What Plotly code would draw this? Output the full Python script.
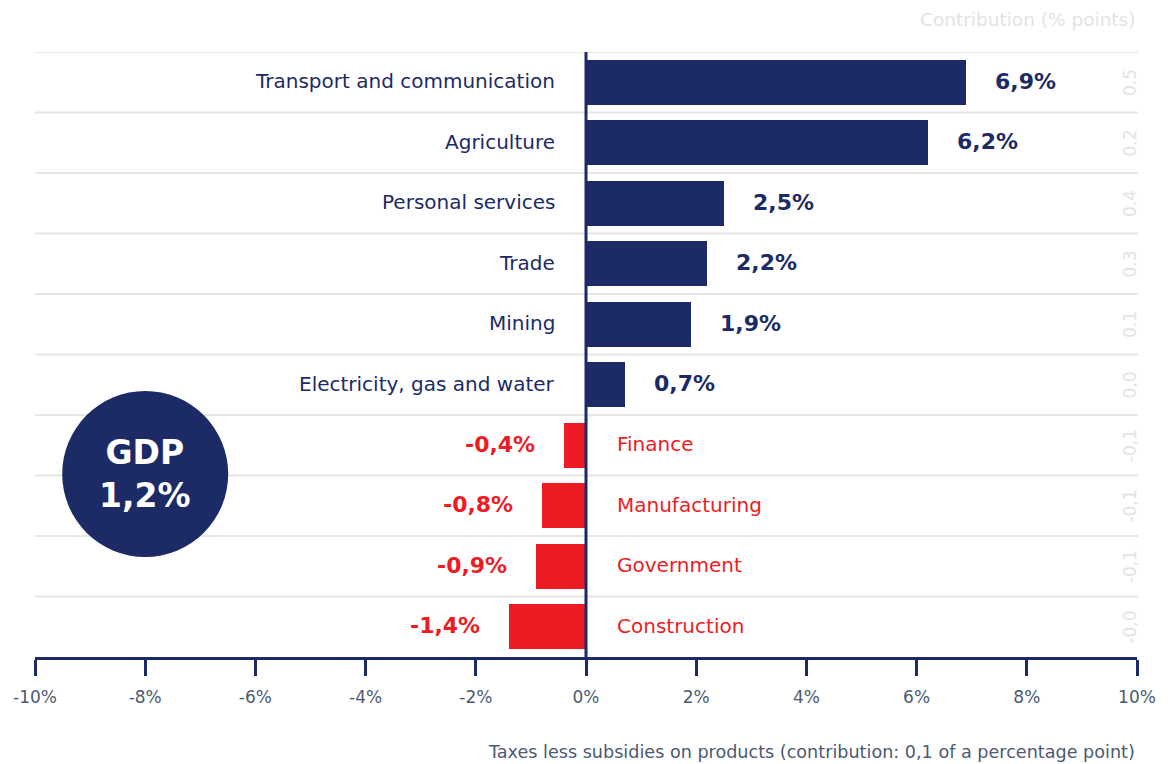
import plotly.graph_objects as go

# Sector growth (%), top to bottom
sectors = ["Transport and communication", "Agriculture", "Personal services", "Trade",
           "Mining", "Electricity, gas and water", "Finance", "Manufacturing",
           "Government", "Construction"]
growth = [6.9, 6.2, 2.5, 2.2, 1.9, 0.7, -0.4, -0.8, -0.9, -1.4]
value_labels = ["6,9%", "6,2%", "2,5%", "2,2%", "1,9%", "0,7%", "-0,4%", "-0,8%", "-0,9%", "-1,4%"]
contribution = ["0.5", "0.2", "0.4", "0.3", "0.1", "0,0", "-0,1", "-0,1", "-0,1", "-0,0"]
tick_vals = [-10, -8, -6, -4, -2, 0, 2, 4, 6, 8, 10]
tick_text = ["-10%", "-8%", "-6%", "-4%", "-2%", "0%", "2%", "4%", "6%", "8%", "10%"]
gdp_label = "<b>GDP</b><br><b>1,2%</b>"

NAVY = "#1c2b66"
RED = "#ed1c24"
SLATE = "#4b5a72"
GRID = "#e6e6e6"
FONT = "DejaVu Sans"

rows = list(range(len(sectors)))
colors = [NAVY if v >= 0 else RED for v in growth]

fig = go.Figure()
fig.add_trace(go.Bar(
    x=growth, y=rows, orientation="h", width=0.75,
    marker=dict(color=colors, line=dict(width=0)),
    hoverinfo="skip", showlegend=False,
))

annotations = []
for i, (name, v, lab, c) in enumerate(zip(sectors, growth, value_labels, contribution)):
    pos = v >= 0
    col = NAVY if pos else RED
    # sector name on the opposite side of the zero line
    annotations.append(dict(
        x=0, y=i, xref="x", yref="y", text=name, showarrow=False,
        xanchor="right" if pos else "left", xshift=-29 if pos else 29, yshift=1,
        font=dict(family=FONT, size=20, color=col),
    ))
    # value label just past the bar end
    annotations.append(dict(
        x=v, y=i, xref="x", yref="y", text=f"<b>{lab}</b>", showarrow=False,
        xanchor="left" if pos else "right", xshift=27 if pos else -27, yshift=1,
        font=dict(family=FONT, size=22, color=col),
    ))
    # contribution in percentage points, rotated at the right edge
    annotations.append(dict(
        x=0.9935, y=i, xref="paper", yref="y", text=c, showarrow=False,
        textangle=-90, xanchor="center", yanchor="middle",
        font=dict(family=FONT, size=17, color="#e3e3e3"),
    ))

annotations.append(dict(
    x=1.0, y=1.0, xref="paper", yref="paper", yshift=33, text="Contribution (% points)",
    showarrow=False, xanchor="right", yanchor="middle",
    font=dict(family=FONT, size=18.5, color="#e3e3e3"),
))
annotations.append(dict(
    x=1.0, y=0, xref="paper", yref="paper", yshift=-95,
    text="Taxes less subsidies on products (contribution: 0,1 of a percentage point)",
    showarrow=False, xanchor="right", yanchor="middle",
    font=dict(family=FONT, size=17.6, color=SLATE),
))
annotations.append(dict(
    x=-8, y=6.475, xref="x", yref="y", text=gdp_label, showarrow=False,
    xanchor="center", yanchor="middle",
    font=dict(family=FONT, size=33, color="white"),
))

shapes = []
# row separators
for k in range(len(sectors)):
    shapes.append(dict(
        type="line", xref="paper", yref="y", x0=0, x1=1.001, y0=k - 0.5, y1=k - 0.5,
        line=dict(color=GRID, width=2), layer="below",
    ))
# GDP badge
shapes.append(dict(
    type="circle", xref="x", yref="y", xsizemode="pixel", ysizemode="pixel",
    xanchor=-8, yanchor=6.475, x0=-83, x1=83, y0=-83, y1=83,
    fillcolor=NAVY, line=dict(width=0), layer="above",
))
# zero line
shapes.append(dict(
    type="line", xref="x", yref="paper", x0=0, x1=0, y0=0, y1=1,
    line=dict(color=NAVY, width=3), layer="above",
))

fig.update_layout(
    width=1168, height=764,
    margin=dict(l=35, r=31, t=52, b=107),
    paper_bgcolor="white", plot_bgcolor="white",
    bargap=0,
    xaxis=dict(
        range=[-10, 10], tickvals=tick_vals, ticktext=tick_text,
        showgrid=False, zeroline=False,
        showline=True, linecolor=NAVY, linewidth=3,
        ticks="outside", ticklen=16, tickwidth=3, tickcolor=NAVY,
        ticklabelstandoff=7,
        tickfont=dict(family=FONT, size=17, color=SLATE),
        fixedrange=True,
    ),
    yaxis=dict(
        range=[9.5, -0.5], showticklabels=False, showgrid=False, zeroline=False,
        showline=False, ticks="", fixedrange=True,
    ),
    annotations=annotations,
    shapes=shapes,
)

fig.write_html("out.html")
